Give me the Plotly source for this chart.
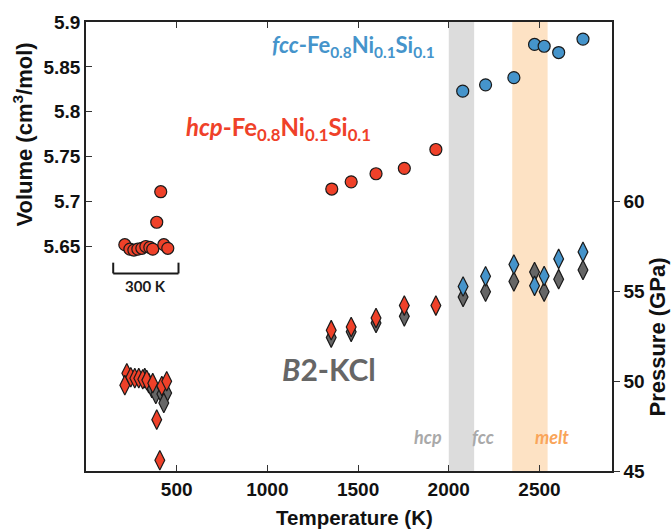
import plotly.graph_objects as go

# hcp phase: low-temperature compression points and high-temperature run
hcp_T_vol = [214, 242, 264, 286, 308, 330, 352, 368, 390, 412, 429, 451,
             1355, 1462, 1599, 1755, 1929]
hcp_vol = [5.652, 5.647, 5.646, 5.647, 5.648, 5.650, 5.649, 5.647, 5.677, 5.711, 5.652, 5.648,
           5.714, 5.722, 5.731, 5.737, 5.758]

# fcc phase volumes
fcc_T_vol = [2077, 2203, 2359, 2473, 2526, 2606, 2740]
fcc_vol = [5.823, 5.830, 5.838, 5.875, 5.873, 5.866, 5.881]

# Pressures from the hcp alloy
hcp_T_p = [225, 214, 247, 269, 291, 313, 335, 368, 418, 445, 390, 407,
           1352, 1462, 1599, 1755, 1929]
hcp_p = [50.44, 49.78, 50.22, 50.17, 50.17, 50.11, 50.06, 49.89, 49.73, 50.00, 47.86, 45.60,
         52.84, 53.02, 53.52, 54.21, 54.21]

# Pressures from the fcc alloy
fcc_T_p = [2079, 2203, 2359, 2473, 2526, 2606, 2740]
fcc_p = [55.27, 55.84, 56.50, 55.31, 55.86, 56.81, 57.20]

# Pressures from the B2-KCl medium
kcl_T_p = [324, 346, 363, 385, 418, 445, 429,
           1352, 1462, 1599, 1755, 2079, 2203, 2359, 2473, 2526, 2606, 2740]
kcl_p = [50.17, 49.89, 49.62, 49.29, 49.29, 49.34, 48.79,
         52.43, 52.75, 53.24, 53.61, 54.69, 54.98, 55.55, 56.08, 54.98, 55.68, 56.19]

# Phase regions (K)
hcp_fcc_band = [2000, 2140]
melt_band = [2350, 2545]

RED = "#ef4129"
BLUE = "#4594cb"
GRAY = "#666666"
TXT = "Lato"
AX = "Liberation Sans"

fig = go.Figure()

line = dict(color="#1a1a1a", width=1.2)

fig.add_trace(go.Scatter(x=kcl_T_p, y=kcl_p, mode="markers", yaxis="y2",
                         marker=dict(symbol="diamond-tall", size=14, color=GRAY, line=line),
                         showlegend=False))
fig.add_trace(go.Scatter(x=hcp_T_p, y=hcp_p, mode="markers", yaxis="y2",
                         marker=dict(symbol="diamond-tall", size=14, color=RED, line=line),
                         showlegend=False))
fig.add_trace(go.Scatter(x=fcc_T_p, y=fcc_p, mode="markers", yaxis="y2",
                         marker=dict(symbol="diamond-tall", size=14, color=BLUE, line=line),
                         showlegend=False))
fig.add_trace(go.Scatter(x=hcp_T_vol, y=hcp_vol, mode="markers",
                         marker=dict(symbol="circle", size=12, color=RED, line=line),
                         showlegend=False))
fig.add_trace(go.Scatter(x=fcc_T_vol, y=fcc_vol, mode="markers",
                         marker=dict(symbol="circle", size=12, color=BLUE, line=line),
                         showlegend=False))

# Phase bands
fig.add_shape(type="rect", xref="x", yref="paper", x0=hcp_fcc_band[0], x1=hcp_fcc_band[1],
              y0=0, y1=1, fillcolor="#dcdcdc", line_width=0, layer="below")
fig.add_shape(type="rect", xref="x", yref="paper", x0=melt_band[0], x1=melt_band[1],
              y0=0, y1=1, fillcolor="#fde2c4", line_width=0, layer="below")

# 300 K bracket
bx0, bx1, by, bt = 150, 510, 5.620, 5.632
bl = dict(color="#1a1a1a", width=2)
fig.add_shape(type="line", x0=bx0, x1=bx1, y0=by, y1=by, line=bl)
fig.add_shape(type="line", x0=bx0, x1=bx0, y0=by, y1=bt, line=bl)
fig.add_shape(type="line", x0=bx1, x1=bx1, y0=by, y1=bt, line=bl)

ann = [
    dict(x=330, y=5.606, text="<b>300 K</b>", font=dict(size=15, color="#1a1a1a", family=TXT),
         xanchor="center", yanchor="middle", yref="y"),
    dict(x=1934, y=5.873, text="<b><i>fcc</i>-Fe<sub>0.8</sub>Ni<sub>0.1</sub>Si<sub>0.1</sub></b>",
         font=dict(size=22, color=BLUE, family=TXT), xanchor="right", yanchor="middle", yref="y"),
    dict(x=538, y=5.781, text="<b><i>hcp</i>-Fe<sub>0.8</sub>Ni<sub>0.1</sub>Si<sub>0.1</sub></b>",
         font=dict(size=24, color=RED, family=TXT), xanchor="left", yanchor="middle", yref="y"),
    dict(x=1071, y=50.7, text="<b><i>B</i>2-KCl</b>",
         font=dict(size=30, color=GRAY, family=TXT), xanchor="left", yanchor="middle", yref="y2"),
    dict(x=1885, y=46.9, text="<b><i>hcp</i></b>", font=dict(size=18, color="#a9a9a9", family=TXT),
         xanchor="center", yanchor="middle", yref="y2"),
    dict(x=2190, y=46.9, text="<b><i>fcc</i></b>", font=dict(size=18, color="#a9a9a9", family=TXT),
         xanchor="center", yanchor="middle", yref="y2"),
    dict(x=2571, y=46.9, text="<b><i>melt</i></b>", font=dict(size=18, color="#f9a55a", family=TXT),
         xanchor="center", yanchor="middle", yref="y2"),
]
for a in ann:
    a.update(xref="x", showarrow=False)

tickfont = dict(family=AX, size=19, color="#111111", weight="bold")


def title_font(size):
    return dict(family=AX, size=size, color="#111111", weight="bold")


# Axis titles placed as annotations so they sit beside the labelled tick ranges
ann += [
    dict(xref="paper", yref="paper", x=-0.12, y=0.749, text="Volume (cm<sup>3</sup>/mol)",
         textangle=-90, font=title_font(22), showarrow=False, xanchor="center", yanchor="middle"),
    dict(xref="paper", yref="paper", x=1.087, y=0.299, text="Pressure (GPa)",
         textangle=-90, font=title_font(22), showarrow=False, xanchor="center", yanchor="middle"),
    dict(xref="paper", yref="paper", x=0.51, y=-0.103, text="Temperature (K)",
         font=title_font(20.5), showarrow=False, xanchor="center", yanchor="middle"),
]
fig.update_layout(annotations=ann)

fig.update_layout(
    width=671, height=530,
    margin=dict(l=86, r=59, t=15, b=59),
    plot_bgcolor="white", paper_bgcolor="white",
    xaxis=dict(range=[0, 2900], tickvals=[500, 1000, 1500, 2000, 2500],
               ticks="inside", ticklen=6, tickcolor="#333", tickwidth=1.2,
               showline=True, linecolor="#222", linewidth=1.5, mirror="ticks",
               showgrid=False, zeroline=False, tickfont=tickfont),
    yaxis=dict(range=[5.4, 5.9], tickvals=[5.65, 5.7, 5.75, 5.8, 5.85, 5.9],
               ticktext=["5.65", "5.7", "5.75", "5.8", "5.85", "5.9"],
               ticks="inside", ticklen=6, tickcolor="#333", tickwidth=1.2,
               showline=True, linecolor="#222", linewidth=1.5,
               showgrid=False, zeroline=False, tickfont=tickfont),
    yaxis2=dict(range=[45, 70], tickvals=[45, 50, 55, 60], overlaying="y", side="right",
                ticks="outside", ticklen=6, tickcolor="#333", tickwidth=1.2,
                showline=True, linecolor="#222", linewidth=1.5,
                showgrid=False, zeroline=False, tickfont=tickfont),
)

fig.write_html("out.html")
